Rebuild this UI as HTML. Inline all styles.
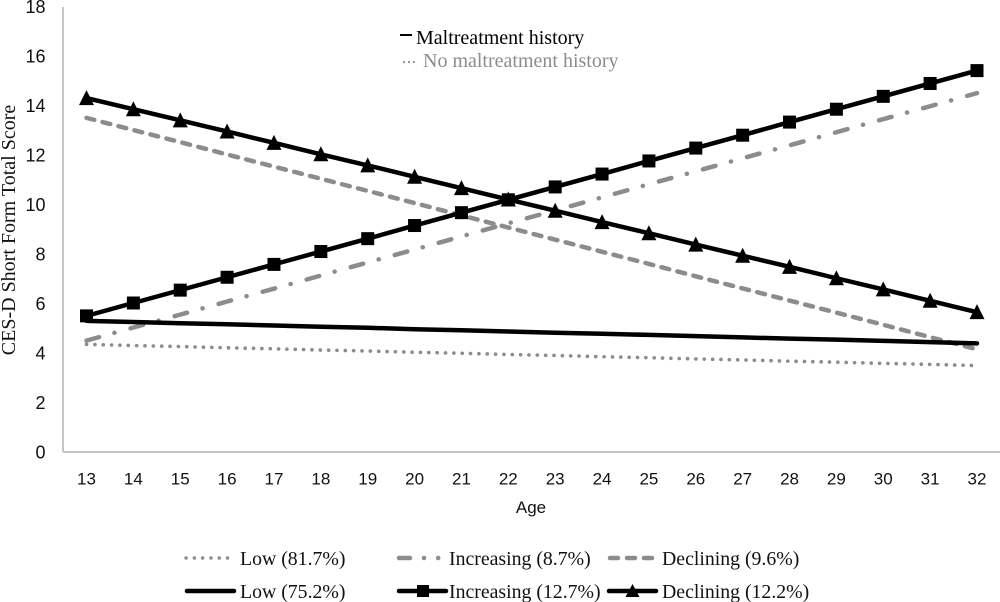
<!DOCTYPE html>
<html lang="en">
<head>
<meta charset="utf-8">
<title>CES-D trajectories by age</title>
<style>
html,body{margin:0;padding:0;background:#fff;width:1000px;height:602px;overflow:hidden}
svg{display:block}
.tick{font-family:"Liberation Sans",sans-serif;fill:#111}
.serif{font-family:"Liberation Serif",serif}
</style>
</head>
<body>
<svg id="chart" xmlns="http://www.w3.org/2000/svg" width="1000" height="602" viewBox="0 0 1000 602">
  <g id="axes">
    <line x1="63" y1="7" x2="63" y2="452" stroke="#bfbfbf" stroke-width="1.8"/>
    <line x1="63" y1="452" x2="1000" y2="452" stroke="#bfbfbf" stroke-width="1.8"/>
  </g>
  <g id="ticks"></g>
  <g id="series"></g>
  <text class="serif" transform="translate(15,230) rotate(-90)" text-anchor="middle" font-size="20" fill="#111">CES-D Short Form Total Score</text>
  <text class="tick" x="531" y="513" text-anchor="middle" font-size="17">Age</text>

  <g>
    <line x1="400" y1="35" x2="412" y2="35" stroke="#000" stroke-width="2"/>
    <text class="serif" x="416" y="44" font-size="20" fill="#000">Maltreatment history</text>
    <line x1="403" y1="62" x2="415" y2="62" stroke="#999" stroke-width="2" stroke-dasharray="2 3"/>
    <text class="serif" x="423" y="67" font-size="20" fill="#8c8c8c">No maltreatment history</text>
  </g>

  <g>
    <line x1="186" y1="558" x2="232" y2="558" stroke="#8c8c8c" stroke-width="3.4" stroke-linecap="round" stroke-dasharray="0.1 8.2"/>
    <text class="serif" x="240" y="565" font-size="19.8" fill="#111">Low (81.7%)</text>
    <line x1="399" y1="558" x2="445" y2="558" stroke="#8c8c8c" stroke-width="4.5" stroke-linecap="round" stroke-dasharray="11 14 0.1 14 0.1 20"/>
    <text class="serif" x="449" y="565" font-size="19.8" fill="#111">Increasing (8.7%)</text>
    <line x1="610" y1="558" x2="654" y2="558" stroke="#8c8c8c" stroke-width="4.5" stroke-linecap="round" stroke-dasharray="8 9"/>
    <text class="serif" x="662" y="565" font-size="19.8" fill="#111">Declining (9.6%)</text>

    <line x1="187" y1="591" x2="234" y2="591" stroke="#000" stroke-width="4.5" stroke-linecap="round"/>
    <text class="serif" x="240" y="598" font-size="19.8" fill="#111">Low (75.2%)</text>
    <line x1="399" y1="591" x2="446" y2="591" stroke="#000" stroke-width="4.5" stroke-linecap="round"/>
    <rect x="417" y="585" width="12" height="12" fill="#000"/>
    <text class="serif" x="449" y="598" font-size="19.8" fill="#111">Increasing (12.7%)</text>
    <line x1="609" y1="591" x2="656" y2="591" stroke="#000" stroke-width="4.5" stroke-linecap="round"/>
    <polygon points="632.5,584 639.5,597 625.5,597" fill="#000"/>
    <text class="serif" x="662" y="598" font-size="19.8" fill="#111">Declining (12.2%)</text>
  </g>
</svg>
<script>
const ages = [13,14,15,16,17,18,19,20,21,22,23,24,25,26,27,28,29,30,31,32];
const yTicks = [0,2,4,6,8,10,12,14,16,18];
const lowNoHistory = [4.35,4.3,4.26,4.21,4.17,4.12,4.08,4.03,3.99,3.94,3.9,3.85,3.81,3.76,3.72,3.67,3.63,3.58,3.54,3.49];
const increasingNoHistory = [4.5,5.03,5.55,6.08,6.6,7.13,7.66,8.18,8.71,9.24,9.76,10.29,10.82,11.34,11.87,12.39,12.92,13.45,13.97,14.5];
const decliningNoHistory = [13.5,13.01,12.52,12.02,11.53,11.04,10.55,10.06,9.56,9.07,8.58,8.09,7.6,7.1,6.61,6.12,5.63,5.14,4.64,4.15];
const lowHistory = [5.3,5.25,5.2,5.16,5.11,5.06,5.02,4.96,4.92,4.87,4.82,4.78,4.73,4.68,4.63,4.58,4.54,4.49,4.44,4.39];
const increasingHistory = [5.5,6.02,6.54,7.06,7.58,8.1,8.62,9.15,9.67,10.19,10.71,11.23,11.76,12.28,12.8,13.33,13.85,14.37,14.89,15.41];
const decliningHistory = [14.3,13.85,13.4,12.95,12.49,12.03,11.58,11.12,10.66,10.2,9.75,9.29,8.84,8.38,7.93,7.48,7.02,6.57,6.11,5.65];

const NS = 'http://www.w3.org/2000/svg';
const xScale = function (age) { return 86.5 + (age - ages[0]) * (977 - 86.5) / (ages[ages.length - 1] - ages[0]); };
const yScale = function (v) { return 452 - v * (445.5 / 18); };
const mk = function (tag, attrs) {
  const el = document.createElementNS(NS, tag);
  Object.keys(attrs).forEach(function (k) { el.setAttribute(k, attrs[k]); });
  return el;
};
const tickLayer = document.getElementById('ticks');
const seriesLayer = document.getElementById('series');

yTicks.forEach(function (v) {
  const t = mk('text', { class: 'tick', x: 45.5, y: yScale(v) + 6.5, 'text-anchor': 'end', 'font-size': 18 });
  
  
  t.textContent = v;
  tickLayer.appendChild(t);
});
ages.forEach(function (a) {
  const t = mk('text', { class: 'tick', x: xScale(a), y: 484.5, 'text-anchor': 'middle', 'font-size': 17 });
  
  
  t.textContent = a;
  tickLayer.appendChild(t);
});

const pointsFor = function (vals) {
  return vals.map(function (v, i) { return xScale(ages[i]).toFixed(2) + ',' + yScale(v).toFixed(2); }).join(' ');
};
const drawLine = function (vals, name, style) {
  const line = mk('polyline', Object.assign({ points: pointsFor(vals), fill: 'none', 'stroke-linejoin': 'round' }, style));
  
  
  seriesLayer.appendChild(line);
};

drawLine(lowNoHistory, 'line-low-no-history', { stroke: '#8c8c8c', 'stroke-width': 3.6, 'stroke-linecap': 'round', 'stroke-dasharray': '0.1 8.25' });
drawLine(increasingNoHistory, 'line-increasing-no-history', { stroke: '#8c8c8c', 'stroke-width': 4.5, 'stroke-linecap': 'round', 'stroke-dasharray': '13 16 0.1 16.6' });
drawLine(decliningNoHistory, 'line-declining-no-history', { stroke: '#8c8c8c', 'stroke-width': 4.5, 'stroke-linecap': 'round', 'stroke-dasharray': '8 8.5' });
drawLine(lowHistory, 'line-low-history', { stroke: '#000', 'stroke-width': 4.5, 'stroke-linecap': 'round' });
drawLine(increasingHistory, 'line-increasing-history', { stroke: '#000', 'stroke-width': 4.5, 'stroke-linecap': 'round' });
drawLine(decliningHistory, 'line-declining-history', { stroke: '#000', 'stroke-width': 4.5, 'stroke-linecap': 'round' });

increasingHistory.forEach(function (v, i) {
  const m = mk('rect', { x: xScale(ages[i]) - 6.5, y: yScale(v) - 6.5, width: 13, height: 13, fill: '#000' });
  
  
  seriesLayer.appendChild(m);
});
decliningHistory.forEach(function (v, i) {
  const x = xScale(ages[i]);
  const y = yScale(v);
  const p = [[x, y - 8], [x + 7.5, y + 7], [x - 7.5, y + 7]].map(function (q) { return q.join(','); }).join(' ');
  const m = mk('polygon', { points: p, fill: '#000' });
  
  
  seriesLayer.appendChild(m);
});
</script>
</body>
</html>
